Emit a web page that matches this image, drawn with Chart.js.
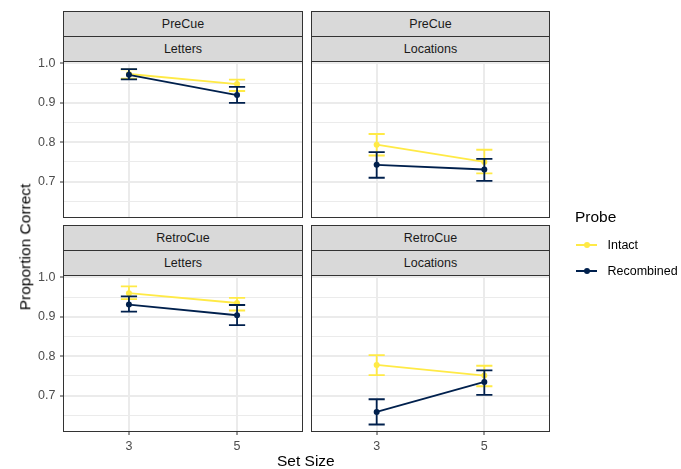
<!DOCTYPE html>
<html>
<head>
<meta charset="utf-8">
<script src="https://cdn.jsdelivr.net/npm/chart.js@4.4.1/dist/chart.umd.min.js"></script>
<style>
html,body{margin:0;padding:0;background:#fff;}
#wrap{position:relative;width:681px;height:469px;overflow:hidden;font-family:'Liberation Sans',Arial,sans-serif;background:#fff;}
#wrap canvas{position:absolute;left:0;top:0;}
.strip{position:absolute;box-sizing:border-box;border:1px solid #333333;background:#D9D9D9;color:#1A1A1A;font-size:12.5px;line-height:24px;text-align:center;white-space:nowrap;}
.title{position:absolute;color:#000;font-size:15.5px;line-height:20px;white-space:nowrap;}
.legtext{position:absolute;color:#000;font-size:12.5px;line-height:20px;white-space:nowrap;}
.keyline{position:absolute;height:2px;width:21px;}
.keydot{position:absolute;width:6px;height:6px;border-radius:50%;}
</style>
</head>
<body>
<div id="wrap"></div>
<script>
// ---------- data ----------
const setSizes = [3, 5];
const xTickLabels = ['3', '5'];
const yMajorTicks = [0.7, 0.8, 0.9, 1.0];
const yTickLabels = ['0.7', '0.8', '0.9', '1.0'];
const yMinorTicks = [0.65, 0.75, 0.85, 0.95];
const cueLabels = ['PreCue', 'PreCue', 'RetroCue', 'RetroCue'];
const stimLabels = ['Letters', 'Locations', 'Letters', 'Locations'];
const probeLabels = ['Intact', 'Recombined'];
const probeColors = ['#FFEA46', '#00204D'];

// per panel: [PreCue-Letters, PreCue-Locations, RetroCue-Letters, RetroCue-Locations], values at set size 3 and 5
const intactMean = [[0.973, 0.9475], [0.794, 0.750], [0.960, 0.935], [0.778, 0.751]];
const intactLow  = [[0.961, 0.930], [0.7665, 0.721], [0.945, 0.916], [0.752, 0.724]];
const intactHigh = [[0.985, 0.959], [0.821, 0.781], [0.977, 0.948], [0.803, 0.776]];
const recombMean = [[0.971, 0.9195], [0.7427, 0.731], [0.931, 0.904], [0.659, 0.735]];
const recombLow  = [[0.9594, 0.900], [0.710, 0.702], [0.913, 0.879], [0.627, 0.702]];
const recombHigh = [[0.9855, 0.9406], [0.775, 0.758], [0.952, 0.930], [0.691, 0.764]];

// ---------- layout ----------
const W = 681, H = 469;
const colX = [[63, 303], [311, 550]];
const rowY = [[61, 218], [275, 432]];
const stripTop = [11, 225];
const STRIP_H = 25;
const Y_MIN = 0.608, Y_MAX = 1.006;
const X_MIN = 1.78, X_MAX = 6.22;
const ERR_HALF = 0.15;

Chart.defaults.font.family = "'Liberation Sans', Arial, sans-serif";

const isMajor = v => yMajorTicks.some(m => Math.abs(m - v) < 1e-9);

const errorBarPlugin = {
  id: 'errorBars',
  afterDatasetDraw(chart, args) {
    const ds = chart.data.datasets[args.index];
    if (!ds.errLow) return;
    const xs = chart.scales.x, ys = chart.scales.y, ctx = chart.ctx;
    ctx.save();
    ctx.strokeStyle = ds.borderColor;
    ctx.lineWidth = 1.8;
    ds.data.forEach((pt, i) => {
      const x = xs.getPixelForValue(pt.x);
      const xl = xs.getPixelForValue(pt.x - ERR_HALF);
      const xr = xs.getPixelForValue(pt.x + ERR_HALF);
      const yl = ys.getPixelForValue(ds.errLow[i]);
      const yh = ys.getPixelForValue(ds.errHigh[i]);
      ctx.beginPath();
      ctx.moveTo(x, yl); ctx.lineTo(x, yh);
      ctx.moveTo(xl, yl); ctx.lineTo(xr, yl);
      ctx.moveTo(xl, yh); ctx.lineTo(xr, yh);
      ctx.stroke();
    });
    ctx.restore();
  }
};

const borderPlugin = {
  id: 'panelBorder',
  afterDraw(chart) {
    const a = chart.chartArea, ctx = chart.ctx;
    ctx.save();
    ctx.strokeStyle = '#333333';
    ctx.lineWidth = 1;
    ctx.strokeRect(a.left + 0.5, a.top + 0.5, a.right - a.left - 1, a.bottom - a.top - 1);
    ctx.restore();
  }
};

const wrap = document.getElementById('wrap');

function makePanel(p, row, col) {
  const cv = document.createElement('canvas');
  cv.width = W; cv.height = H;
  wrap.appendChild(cv);
  const showX = row === 1, showY = col === 0;
  const yW = showY ? 30 : 0, xH = showX ? 25 : 0;
  const [l, r] = colX[col], [t, b] = rowY[row];
  const mk = (mean) => setSizes.map((s, i) => ({x: s, y: mean[i]}));
  new Chart(cv, {
    type: 'line',
    data: {
      datasets: [
        {label: probeLabels[0], data: mk(intactMean[p]), errLow: intactLow[p], errHigh: intactHigh[p],
         borderColor: probeColors[0], backgroundColor: probeColors[0], order: 1},
        {label: probeLabels[1], data: mk(recombMean[p]), errLow: recombLow[p], errHigh: recombHigh[p],
         borderColor: probeColors[1], backgroundColor: probeColors[1], order: 0}
      ]
    },
    options: {
      responsive: false, animation: false,
      layout: {padding: {left: l - yW, top: t, right: W - r, bottom: H - b - xH}},
      elements: {
        line: {borderWidth: 1.8, tension: 0},
        point: {radius: 3, borderWidth: 0, hoverRadius: 3}
      },
      plugins: {legend: {display: false}, tooltip: {enabled: false}},
      scales: {
        x: {
          type: 'linear', min: X_MIN, max: X_MAX,
          afterBuildTicks: s => { s.ticks = setSizes.map(v => ({value: v})); },
          afterFit: s => { s.height = xH; },
          border: {display: false},
          grid: {color: '#EBEBEB', lineWidth: 2, drawTicks: showX, tickLength: 3, tickColor: '#333333', tickWidth: 1},
          ticks: {display: showX, autoSkip: false, maxRotation: 0, padding: 4, color: '#4D4D4D', font: {size: 12.5},
                  callback: v => xTickLabels[setSizes.indexOf(v)]}
        },
        y: {
          type: 'linear', min: Y_MIN, max: Y_MAX,
          afterBuildTicks: s => { s.ticks = yMinorTicks.concat(yMajorTicks).sort((a, c) => a - c).map(v => ({value: v})); },
          afterFit: s => { s.width = yW; },
          border: {display: false},
          grid: {
            color: '#EBEBEB',
            lineWidth: c => (c.tick && isMajor(c.tick.value)) ? 2 : 1,
            drawTicks: showY, tickLength: 3, tickWidth: 1,
            tickColor: c => (c.tick && isMajor(c.tick.value)) ? '#333333' : 'rgba(0,0,0,0)'
          },
          ticks: {display: showY, autoSkip: false, padding: 4.5, color: '#4D4D4D', font: {size: 12.5},
                  callback: v => { const i = yMajorTicks.findIndex(m => Math.abs(m - v) < 1e-9); return i >= 0 ? yTickLabels[i] : ''; }}
        }
      }
    },
    plugins: [errorBarPlugin, borderPlugin]
  });
  // strips
  [cueLabels[p], stimLabels[p]].forEach((txt, k) => {
    const d = document.createElement('div');
    d.className = 'strip';
    d.style.left = l + 'px';
    d.style.width = (r - l) + 'px';
    d.style.top = (stripTop[row] + k * STRIP_H) + 'px';
    d.style.height = (STRIP_H + 1) + 'px';
    d.textContent = txt;
    wrap.appendChild(d);
  });
}

makePanel(0, 0, 0);
makePanel(1, 0, 1);
makePanel(2, 1, 0);
makePanel(3, 1, 1);

// axis titles
function addDiv(cls, txt, css) {
  const d = document.createElement('div');
  d.className = cls; d.textContent = txt;
  Object.assign(d.style, css);
  wrap.appendChild(d);
  return d;
}
const xt = addDiv('title', 'Set Size', {top: '451px'});
xt.style.left = (306 - xt.offsetWidth / 2) + 'px';
const yt = addDiv('title', 'Proportion Correct', {});
yt.style.left = (25 - yt.offsetWidth / 2) + 'px';
yt.style.top = (247 - 10) + 'px';
yt.style.transform = 'rotate(-90deg)';

// legend
addDiv('title', 'Probe', {left: '575px', top: '207px'});
const keyY = [245, 271];
probeLabels.forEach((lab, i) => {
  addDiv('keyline', '', {left: '576px', top: (keyY[i] - 1) + 'px', background: probeColors[i]});
  addDiv('keydot', '', {left: '583.5px', top: (keyY[i] - 3) + 'px', background: probeColors[i]});
  addDiv('legtext', lab, {left: '607.5px', top: (keyY[i] - 10) + 'px'});
});
</script>
</body>
</html>
